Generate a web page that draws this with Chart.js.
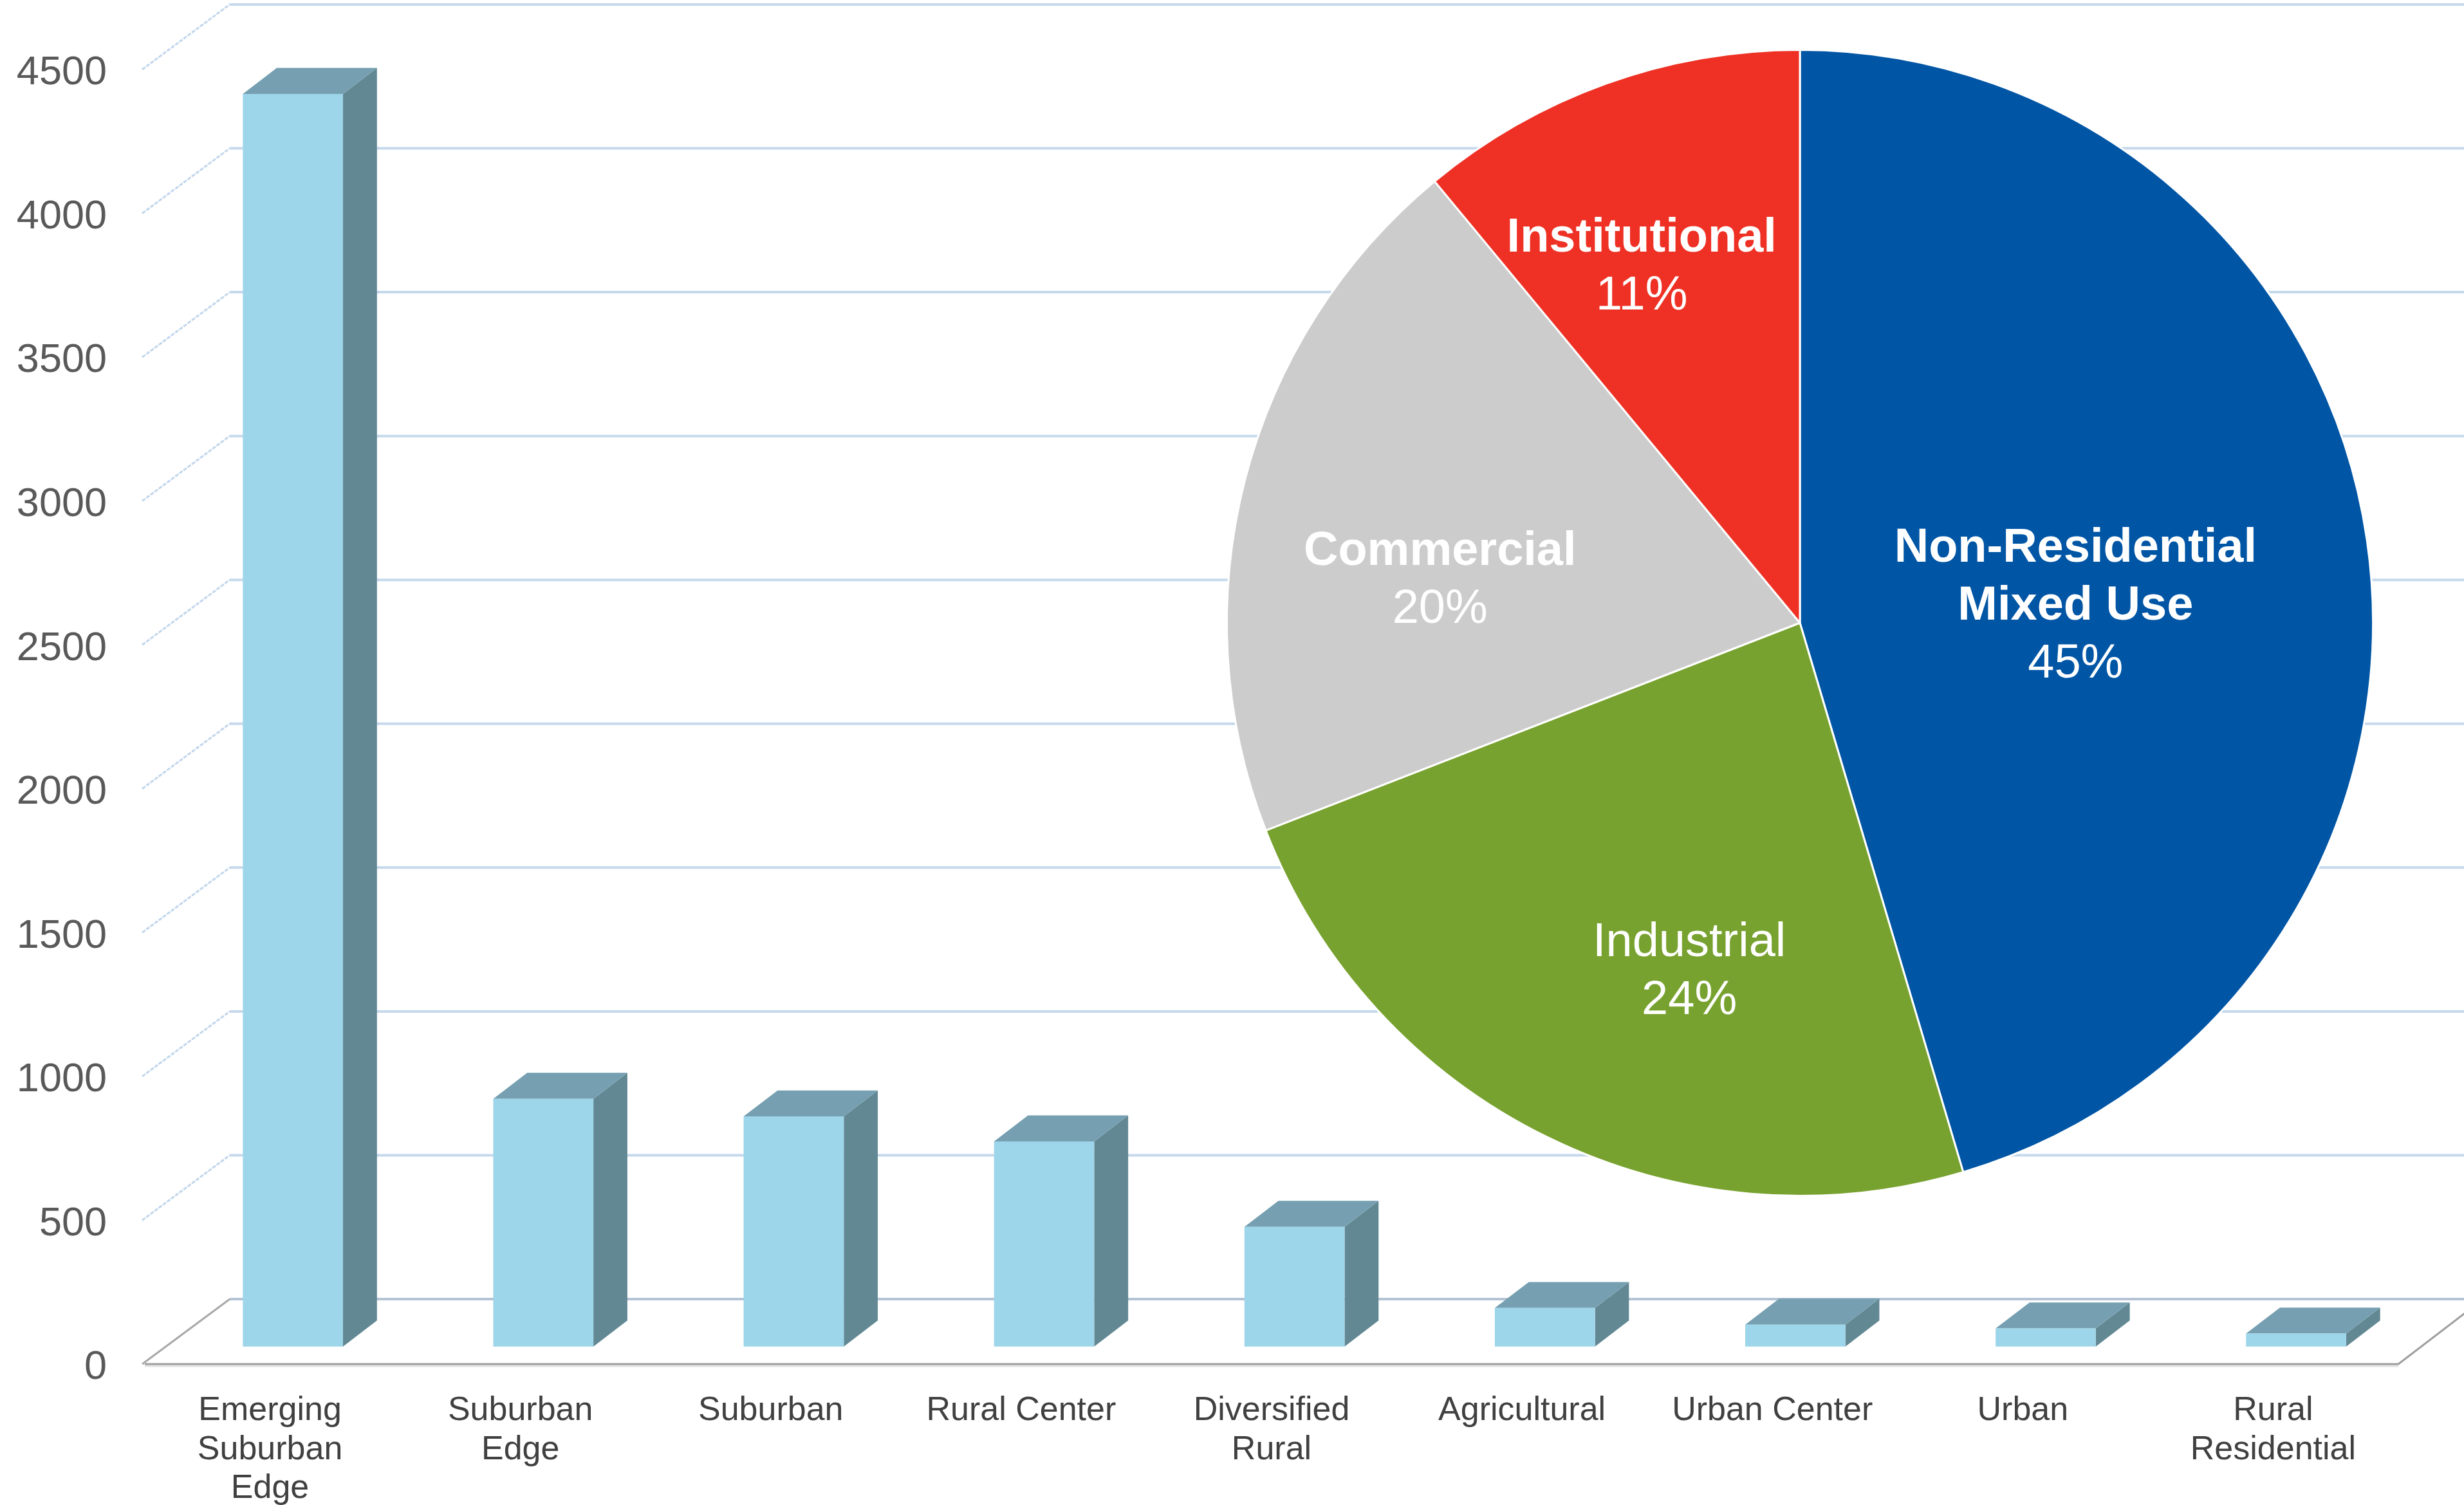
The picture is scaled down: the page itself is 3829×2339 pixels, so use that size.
<!DOCTYPE html>
<html><head><meta charset="utf-8">
<script src="https://cdn.jsdelivr.net/npm/chart.js@4.4.1/dist/chart.umd.min.js"></script>
<style>
html,body{margin:0;padding:0;background:#fff;overflow:hidden;}
#wrap{position:relative;width:3829px;height:2339px;background:#fff;}
#bars{position:absolute;left:0;top:0;}
#pie{position:absolute;left:1897px;top:68px;}
</style></head><body>
<div id="wrap"><canvas id="bars" width="3829" height="2339"></canvas><canvas id="pie" width="1800" height="1800"></canvas></div>
<script>
// ---------- data ----------
const categories = [
  ['Emerging','Suburban','Edge'], ['Suburban','Edge'], 'Suburban', 'Rural Center',
  ['Diversified','Rural'], 'Agricultural', 'Urban Center', 'Urban', ['Rural','Residential']
];
const acreage = [4354, 861, 800, 713, 416, 134, 76, 63, 45];
const yMin = 0, yMax = 4500, yStep = 500;

const pieCategories = [['Non-Residential','Mixed Use'], ['Industrial'], ['Commercial'], ['Institutional']];
const pieShares = [45.4, 23.7, 19.9, 11.0];

// ---------- style ----------
const FONT = "'Liberation Sans', Arial, Helvetica, sans-serif";
Chart.defaults.font.family = FONT;
const DEPTH = {x: 132, y: -101};
const BAR_FRONT = 0.27, BAR_BACK = 0.67;
const COL_FRONT = '#9DD5EA', COL_TOP = '#76A0B1', COL_SIDE = '#628894';
const pieColors = ['#0055A5', '#78A22F', '#CCCCCC', '#EE3124'];
const PIE_BOLD = [true, false, true, true];
const PIE_LABEL_POS = [[0.481, -0.028], [-0.193, 0.609], [-0.628, -0.073], [-0.276, -0.620]];

function poly(ctx, pts, color){
  ctx.beginPath();
  ctx.moveTo(pts[0][0], pts[0][1]);
  for (let i = 1; i < pts.length; i++) ctx.lineTo(pts[i][0], pts[i][1]);
  ctx.closePath();
  ctx.fillStyle = color;
  ctx.fill();
}

const box3d = {
  id: 'box3d',
  beforeDatasetsDraw(chart){
    const {ctx, chartArea: a, scales: {y}} = chart;
    ctx.save();
    y.ticks.forEach(t => {
      const yf = y.getPixelForValue(t.value);
      const yb = yf + DEPTH.y, xb = a.left + DEPTH.x;
      ctx.setLineDash([]);
      ctx.lineWidth = 4;
      ctx.strokeStyle = t.value === 0 ? '#B4C4D4' : '#C6D9EC';
      ctx.beginPath(); ctx.moveTo(xb, yb); ctx.lineTo(chart.width, yb); ctx.stroke();
      ctx.lineWidth = 3;
      if (t.value === 0) { ctx.strokeStyle = '#A8A8A8'; }
      else { ctx.strokeStyle = '#C2D6EC'; ctx.setLineDash([6, 2]); }
      ctx.beginPath(); ctx.moveTo(a.left - 4, yf); ctx.lineTo(xb, yb); ctx.stroke();
    });
    ctx.setLineDash([]);
    // bars
    const meta = chart.getDatasetMeta(0);
    const fx = DEPTH.x * BAR_FRONT, fy = DEPTH.y * BAR_FRONT;
    const dx = DEPTH.x * (BAR_BACK - BAR_FRONT), dy = DEPTH.y * (BAR_BACK - BAR_FRONT);
    meta.data.forEach(el => {
      const p = el.getProps(['x', 'y', 'base', 'width'], true);
      const L = p.x - p.width / 2 + fx, R = p.x + p.width / 2 + fx;
      const T = p.y + fy, B = p.base + fy;
      poly(ctx, [[R, T], [R + dx, T + dy], [R + dx, B + dy], [R, B]], COL_SIDE);
      poly(ctx, [[L, T], [R, T], [R + dx, T + dy], [L + dx, T + dy]], COL_TOP);
      poly(ctx, [[L, T], [R, T], [R, B], [L, B]], COL_FRONT);
    });
    ctx.restore();
  },
  afterDatasetsDraw(chart){
    const {ctx, chartArea: a} = chart;
    ctx.save();
    ctx.strokeStyle = '#E2E2E2';
    ctx.lineWidth = 3;
    ctx.beginPath();
    ctx.moveTo(a.left, a.bottom + 3); ctx.lineTo(a.right, a.bottom + 3);
    ctx.stroke();
    ctx.strokeStyle = '#9E9E9E';
    ctx.lineWidth = 3;
    ctx.beginPath();
    ctx.moveTo(a.left, a.bottom); ctx.lineTo(a.right, a.bottom);
    ctx.lineTo(a.right + DEPTH.x, a.bottom + DEPTH.y);
    ctx.stroke();
    ctx.restore();
  }
};

new Chart(document.getElementById('bars'), {
  type: 'bar',
  data: {
    labels: categories,
    datasets: [{
      data: acreage,
      backgroundColor: 'rgba(0,0,0,0)',
      borderWidth: 0,
      categoryPercentage: 1.0,
      barPercentage: 0.4
    }]
  },
  options: {
    responsive: false,
    devicePixelRatio: 1,
    animation: false,
    layout: {padding: {top: 108, right: 102, left: 0, bottom: 0}},
    plugins: {legend: {display: false}, tooltip: {enabled: false}},
    scales: {
      x: {
        type: 'category',
        offset: true,
        grid: {display: false, drawTicks: false},
        border: {display: false},
        ticks: {
          autoSkip: false, maxRotation: 0, minRotation: 0,
          padding: 42,
          color: '#404040',
          font: {size: 52, lineHeight: 1.17}
        },
        afterFit: s => { s.height = 219; }
      },
      y: {
        min: yMin, max: yMax,
        grid: {display: false, drawTicks: false},
        border: {display: false},
        ticks: {
          stepSize: yStep,
          padding: 59,
          labelOffset: 6,
          color: '#595959',
          font: {size: 63},
          callback: v => String(v)
        },
        afterFit: s => { s.width = 225; }
      }
    }
  },
  plugins: [box3d]
});

const pieLabels = {
  id: 'pieLabels',
  afterDatasetsDraw(chart){
    const ctx = chart.ctx;
    const meta = chart.getDatasetMeta(0);
    const total = pieShares.reduce((s, v) => s + v, 0);
    ctx.save();
    ctx.fillStyle = '#FFFFFF';
    ctx.textAlign = 'center';
    ctx.textBaseline = 'middle';
    meta.data.forEach((arc, i) => {
      const R = arc.outerRadius;
      const cx = arc.x + PIE_LABEL_POS[i][0] * R;
      const cy = arc.y + PIE_LABEL_POS[i][1] * R;
      const lines = pieCategories[i].map(t => ({t, bold: PIE_BOLD[i]}));
      lines.push({t: Math.round(pieShares[i] / total * 100) + '%', bold: false});
      const n = lines.length;
      lines.forEach((ln, k) => {
        ctx.font = (ln.bold ? 'bold ' : '') + '74px ' + FONT;
        ctx.fillText(ln.t, cx, cy + (k - (n - 1) / 2) * 90);
      });
    });
    ctx.restore();
  }
};

new Chart(document.getElementById('pie'), {
  type: 'pie',
  data: {
    labels: pieCategories.map(l => l.join(' ')),
    datasets: [{
      data: pieShares,
      backgroundColor: pieColors,
      borderColor: '#FFFFFF',
      borderWidth: 3
    }]
  },
  options: {
    responsive: false,
    devicePixelRatio: 1,
    animation: false,
    layout: {padding: 8},
    plugins: {legend: {display: false}, tooltip: {enabled: false}}
  },
  plugins: [pieLabels]
});
</script>
</body></html>
